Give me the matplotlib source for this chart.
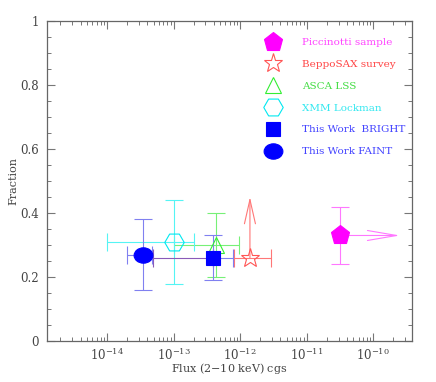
import numpy as np
import matplotlib
matplotlib.use("Agg")
import matplotlib.pyplot as plt
from matplotlib.lines import Line2D
from matplotlib.path import Path

plt.rcParams['font.family'] = ['DejaVu Serif']
plt.rcParams['mathtext.fontset'] = 'dejavuserif'

# ------------------------------
# data
# ------------------------------
names = ["Piccinotti sample", "BeppoSAX survey", "ASCA LSS",
         "XMM Lockman", "This Work  BRIGHT", "This Work FAINT"]
flux = [3.1e-11, 1.4e-12, 4.4e-13, 1.0e-13, 3.9e-13, 3.5e-14]
frac = [0.33, 0.26, 0.30, 0.31, 0.26, 0.27]
flux_lo = [np.nan, 8.0e-13, 1.0e-13, 1.0e-14, 4.9e-14, 2.0e-14]
flux_hi = [np.nan, 2.9e-12, 9.5e-13, 2.0e-13, 7.9e-13, 4.8e-14]
frac_lo = [0.24, np.nan, 0.20, 0.18, 0.19, 0.16]
frac_hi = [0.42, np.nan, 0.40, 0.44, 0.33, 0.38]

pic_flux_limit = 2.5e-10   # Piccinotti: arrow towards brighter flux
sax_frac_limit = 0.45      # BeppoSAX: lower limit on fraction

decades = [1e-14, 1e-13, 1e-12, 1e-11, 1e-10]
yticks = [0, 0.2, 0.4, 0.6, 0.8, 1.0]
ylabels = ["0", "0.2", "0.4", "0.6", "0.8", "1"]

# ------------------------------
# styles
# ------------------------------
ellipse = Path(Path.unit_circle().vertices * [1.0, 0.82], Path.unit_circle().codes)
markers = ["p", "*", "^", "H", "s", ellipse]
msizes = [14, 14, 12, 14, 9.5, 13.5]
mcolors = ["#ff00ff", "#ff5555", "#33ee33", "#00e8f0", "#0000ff", "#0000ff"]
filled = [True, False, False, False, True, True]
ecolors = ["#ff77ff", "#ff7777", "#77f077", "#55f4f4", "#8080f0", "#8080f0"]
text_colors = ["#ff44ff", "#ff4444", "#44dd44", "#33e8f0", "#4444ff", "#4444ff"]

fig = plt.figure(figsize=(4.36, 3.82), dpi=100)
ax = fig.add_axes([0.108, 0.107, 0.837, 0.838])

for i in range(len(names)):
    x, y = flux[i], frac[i]
    if not np.isnan(flux_lo[i]):
        if i == 4:
            # bright sample: left half of the bar drawn in purple
            ax.errorbar([x], [y], xerr=[[x - flux_lo[i]], [0]], fmt="none",
                        ecolor="#8a5ab8", elinewidth=0.8, capsize=6.5, capthick=0.8)
            ax.errorbar([x], [y], xerr=[[0], [flux_hi[i] - x]], fmt="none",
                        ecolor=ecolors[i], elinewidth=0.8, capsize=6.5, capthick=0.8)
        else:
            ax.errorbar([x], [y], xerr=[[x - flux_lo[i]], [flux_hi[i] - x]], fmt="none",
                        ecolor=ecolors[i], elinewidth=0.8, capsize=6.5, capthick=0.8)
    if not np.isnan(frac_lo[i]):
        ax.errorbar([x], [y], yerr=[[y - frac_lo[i]], [frac_hi[i] - y]], fmt="none",
                    ecolor=ecolors[i], elinewidth=0.8, capsize=6.5, capthick=0.8)

# limit arrows
ax.annotate("", xy=(pic_flux_limit, frac[0]), xytext=(flux[0], frac[0]),
            arrowprops=dict(arrowstyle="->,head_length=1.75,head_width=0.3",
                            color=ecolors[0], lw=0.8, shrinkA=0, shrinkB=0,
                            mutation_scale=12))
ax.annotate("", xy=(flux[1], sax_frac_limit), xytext=(flux[1], frac[1]),
            arrowprops=dict(arrowstyle="->,head_length=1.45,head_width=0.33",
                            color=ecolors[1], lw=0.8, shrinkA=0, shrinkB=0,
                            mutation_scale=12))

handles = []
for i in range(len(names)):
    fc = mcolors[i] if filled[i] else "none"
    ax.plot([flux[i]], [frac[i]], marker=markers[i], ms=msizes[i], ls="none",
            mfc=fc, mec=mcolors[i], mew=0.8, zorder=5)
    handles.append(Line2D([], [], marker=markers[i], ms=msizes[i], ls="none",
                          mfc=fc, mec=mcolors[i], mew=0.8))

leg = ax.legend(handles, names, loc="upper left", bbox_to_anchor=(0.575, 0.97),
                frameon=False, fontsize=7.5, labelcolor=text_colors,
                handlelength=1.6, handletextpad=2.0, labelspacing=1.2,
                borderpad=0.2)

ax.set_xscale("log")
ax.set_xlim(10**-14.9, 10**-9.42)
ax.set_xticks(decades)
ax.set_ylim(0, 1)
ax.set_yticks(yticks)
ax.set_yticklabels(ylabels)
ax.set_yticks(np.arange(0, 1.0001, 0.05), minor=True)

for s in ax.spines.values():
    s.set_color("#666666")
    s.set_linewidth(0.9)
ax.tick_params(which="both", direction="in", top=True, right=True,
               colors="#777777", labelcolor="#444444", labelsize=8.5)
ax.tick_params(which="major", length=6, width=0.8, pad=6)
ax.tick_params(which="minor", length=3, width=0.7)
ax.tick_params(axis="x", which="major", pad=4)

ax.set_xlabel("Flux (2$-$10 keV) cgs", fontsize=8, color="#444444", labelpad=-1)
ax.set_ylabel("Fraction", fontsize=8, color="#444444", labelpad=1)

fig.savefig("out.png", dpi=100)
